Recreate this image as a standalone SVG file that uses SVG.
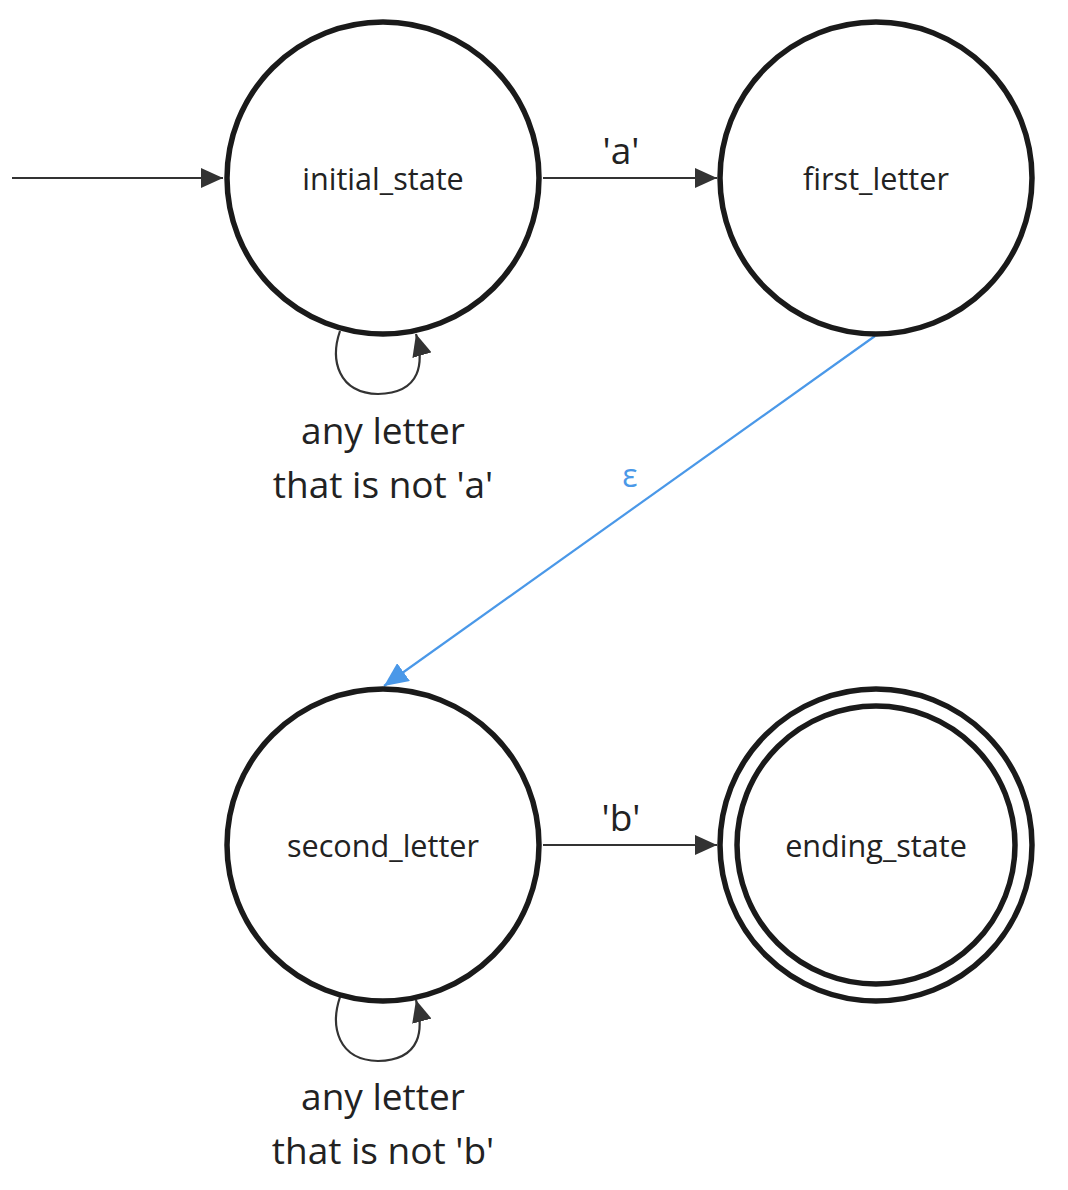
<svg xmlns="http://www.w3.org/2000/svg" width="1068" height="1190" viewBox="0 0 1068 1190">
<style>
.state{fill:#fff;stroke:#1a1a1a;stroke-width:5.5}
.lbl{font-family:"Open Sans","Noto Sans",sans-serif;font-size:30.6px;fill:#222;text-anchor:middle}
.elbl{font-family:"Open Sans","Noto Sans",sans-serif;font-size:37px;fill:#222;text-anchor:middle}
.edge{fill:none;stroke:#333;stroke-width:2.2}
</style>
<defs>
<marker id="ah" markerWidth="22" markerHeight="20" refX="22" refY="10" orient="auto" markerUnits="userSpaceOnUse" viewBox="0 0 22 20">
<path d="M0,0 L22,10 L0,20 z" fill="#333"/>
</marker>
<marker id="ahb" markerWidth="24" markerHeight="22" refX="24" refY="11" orient="auto" markerUnits="userSpaceOnUse" viewBox="0 0 24 22">
<path d="M0,0 L24,11 L0,22 z" fill="#4a98e8"/>
</marker>
</defs>
<rect width="1068" height="1190" fill="#fff"/>
<g id="connectors">
<line class="edge" x1="12" y1="178" x2="223" y2="178" marker-end="url(#ah)"/>
<line class="edge" x1="543" y1="178" x2="717" y2="178" marker-end="url(#ah)"/>
<text class="elbl" x="621" y="164">'a'</text>
<line x1="875" y1="336" x2="384" y2="686" stroke="#4a98e8" stroke-width="2.2" marker-end="url(#ahb)"/>
<text x="630" y="487" font-family="Open Sans, Noto Sans, sans-serif" font-size="32" fill="#4a98e8" text-anchor="middle">ε</text>
<path class="edge" d="M340,331 C330,360 338,393 378,394 C422,393 424,362 416,334" marker-end="url(#ah)"/>
<text class="elbl" x="383" y="444">any letter</text>
<text class="elbl" x="383" y="498">that is not 'a'</text>
<line class="edge" x1="543" y1="845" x2="717" y2="845" marker-end="url(#ah)"/>
<text class="elbl" x="621" y="831">'b'</text>
<path class="edge" d="M340,997 C330,1027 338,1060 378,1061 C422,1060 424,1029 416,1000" marker-end="url(#ah)"/>
<text class="elbl" x="383" y="1110">any letter</text>
<text class="elbl" x="383" y="1164">that is not 'b'</text>
</g>
<g id="initial_state">
<circle class="state" cx="383" cy="178" r="156"/>
<text class="lbl" x="383" y="190">initial_state</text>
</g>
<g id="first_letter">
<circle class="state" cx="876" cy="178" r="156"/>
<text class="lbl" x="876" y="190">first_letter</text>
</g>
<g id="second_letter">
<circle class="state" cx="383" cy="845" r="156"/>
<text class="lbl" x="383" y="857">second_letter</text>
</g>
<g id="ending_state">
<circle class="state" cx="876" cy="845" r="156"/>
<circle class="state" cx="876" cy="845" r="139"/>
<text class="lbl" x="876" y="857">ending_state</text>
</g>
</svg>
